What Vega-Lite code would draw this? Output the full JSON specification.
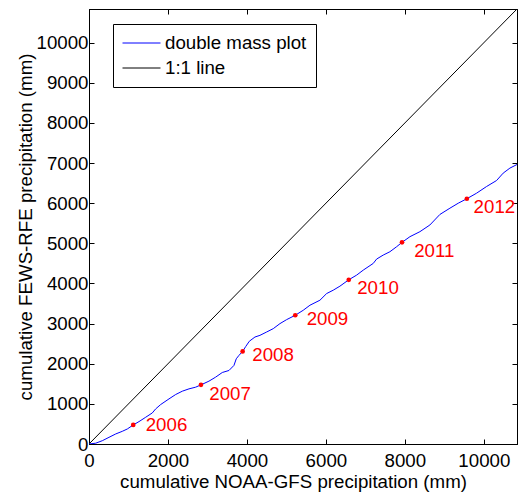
{
  "$schema": "https://vega.github.io/schema/vega-lite/v6.json",
  "width": 428,
  "height": 435,
  "autosize": {"type": "none"},
  "padding": {"left": 89, "top": 9, "right": 1, "bottom": 56},
  "config": {
    "font": "Liberation Sans",
    "view": {"stroke": "black", "strokeWidth": 1},
    "axis": {
      "domainColor": "black",
      "tickColor": "black",
      "labelColor": "black",
      "titleColor": "black",
      "labelFont": "Liberation Sans",
      "titleFont": "Liberation Sans",
      "labelFontSize": 18.7,
      "titleFontSize": 18.7,
      "titleFontWeight": "normal",
      "grid": false,
      "tickSize": -5,
      "labelPadding": 6,
      "labelFlush": false,
      "labelOverlap": false,
      "format": "d"
    },
    "legend": {
      "labelFont": "Liberation Sans",
      "labelFontSize": 18.7,
      "labelColor": "black"
    }
  },
  "datasets": {
    "lines": [
      {"x": 0, "y": 0, "series": "1:1 line"},
      {"x": 10840, "y": 10840, "series": "1:1 line"},
      {"x": 0, "y": 0, "series": "double mass plot"},
      {"x": 170, "y": 20, "series": "double mass plot"},
      {"x": 337, "y": 82, "series": "double mass plot"},
      {"x": 506, "y": 166, "series": "double mass plot"},
      {"x": 676, "y": 250, "series": "double mass plot"},
      {"x": 843, "y": 316, "series": "double mass plot"},
      {"x": 970, "y": 374, "series": "double mass plot"},
      {"x": 1120, "y": 475, "series": "double mass plot"},
      {"x": 1266, "y": 558, "series": "double mass plot"},
      {"x": 1435, "y": 666, "series": "double mass plot"},
      {"x": 1603, "y": 774, "series": "double mass plot"},
      {"x": 1688, "y": 874, "series": "double mass plot"},
      {"x": 1815, "y": 983, "series": "double mass plot"},
      {"x": 2026, "y": 1124, "series": "double mass plot"},
      {"x": 2195, "y": 1233, "series": "double mass plot"},
      {"x": 2363, "y": 1316, "series": "double mass plot"},
      {"x": 2532, "y": 1374, "series": "double mass plot"},
      {"x": 2701, "y": 1416, "series": "double mass plot"},
      {"x": 2836, "y": 1474, "series": "double mass plot"},
      {"x": 3038, "y": 1566, "series": "double mass plot"},
      {"x": 3207, "y": 1666, "series": "double mass plot"},
      {"x": 3376, "y": 1782, "series": "double mass plot"},
      {"x": 3545, "y": 1832, "series": "double mass plot"},
      {"x": 3671, "y": 1958, "series": "double mass plot"},
      {"x": 3730, "y": 2124, "series": "double mass plot"},
      {"x": 3798, "y": 2208, "series": "double mass plot"},
      {"x": 3891, "y": 2308, "series": "double mass plot"},
      {"x": 3970, "y": 2430, "series": "double mass plot"},
      {"x": 4060, "y": 2560, "series": "double mass plot"},
      {"x": 4203, "y": 2666, "series": "double mass plot"},
      {"x": 4330, "y": 2708, "series": "double mass plot"},
      {"x": 4499, "y": 2791, "series": "double mass plot"},
      {"x": 4667, "y": 2875, "series": "double mass plot"},
      {"x": 4836, "y": 3000, "series": "double mass plot"},
      {"x": 5005, "y": 3099, "series": "double mass plot"},
      {"x": 5224, "y": 3208, "series": "double mass plot"},
      {"x": 5426, "y": 3333, "series": "double mass plot"},
      {"x": 5596, "y": 3458, "series": "double mass plot"},
      {"x": 5849, "y": 3583, "series": "double mass plot"},
      {"x": 6018, "y": 3749, "series": "double mass plot"},
      {"x": 6186, "y": 3833, "series": "double mass plot"},
      {"x": 6355, "y": 3933, "series": "double mass plot"},
      {"x": 6579, "y": 4092, "series": "double mass plot"},
      {"x": 6778, "y": 4208, "series": "double mass plot"},
      {"x": 6946, "y": 4333, "series": "double mass plot"},
      {"x": 7199, "y": 4500, "series": "double mass plot"},
      {"x": 7284, "y": 4608, "series": "double mass plot"},
      {"x": 7452, "y": 4708, "series": "double mass plot"},
      {"x": 7621, "y": 4791, "series": "double mass plot"},
      {"x": 7791, "y": 4916, "series": "double mass plot"},
      {"x": 7928, "y": 5025, "series": "double mass plot"},
      {"x": 8128, "y": 5166, "series": "double mass plot"},
      {"x": 8381, "y": 5291, "series": "double mass plot"},
      {"x": 8634, "y": 5458, "series": "double mass plot"},
      {"x": 8887, "y": 5720, "series": "double mass plot"},
      {"x": 9141, "y": 5876, "series": "double mass plot"},
      {"x": 9351, "y": 6000, "series": "double mass plot"},
      {"x": 9570, "y": 6112, "series": "double mass plot"},
      {"x": 9816, "y": 6250, "series": "double mass plot"},
      {"x": 10069, "y": 6416, "series": "double mass plot"},
      {"x": 10323, "y": 6566, "series": "double mass plot"},
      {"x": 10490, "y": 6750, "series": "double mass plot"},
      {"x": 10660, "y": 6875, "series": "double mass plot"},
      {"x": 10840, "y": 6965, "series": "double mass plot"}
    ],
    "years": [
      {"x": 1120, "y": 475, "lx": 1436, "ly": 475, "year": "2006"},
      {"x": 2836, "y": 1474, "lx": 3046, "ly": 1250, "year": "2007"},
      {"x": 3891, "y": 2308, "lx": 4135, "ly": 2208, "year": "2008"},
      {"x": 5224, "y": 3208, "lx": 5512, "ly": 3125, "year": "2009"},
      {"x": 6579, "y": 4092, "lx": 6793, "ly": 3875, "year": "2010"},
      {"x": 7928, "y": 5025, "lx": 8237, "ly": 4815, "year": "2011"},
      {"x": 9570, "y": 6112, "lx": 9741, "ly": 5900, "year": "2012"}
    ]
  },
  "layer": [
    {
      "data": {"name": "lines"},
      "mark": {"type": "line", "strokeWidth": 1, "clip": true},
      "encoding": {
        "x": {
          "field": "x", "type": "quantitative",
          "scale": {"domain": [0, 10840], "nice": false},
          "axis": {"orient": "bottom", "values": [0, 2000, 4000, 6000, 8000, 10000], "title": "cumulative NOAA-GFS precipitation (mm)", "titleX": 204, "titlePadding": 3, "labelPadding": 12}
        },
        "y": {
          "field": "y", "type": "quantitative",
          "scale": {"domain": [0, 10840], "nice": false},
          "axis": {"orient": "left", "values": [0, 1000, 2000, 3000, 4000, 5000, 6000, 7000, 8000, 9000, 10000], "title": "cumulative FEWS-RFE precipitation (mm)", "titlePadding": 1}
        },
        "color": {
          "field": "series", "type": "nominal",
          "scale": {"domain": ["double mass plot", "1:1 line"], "range": ["#0000ff", "#000000"]},
          "legend": {
            "title": null,
            "orient": "none",
            "legendX": 24,
            "legendY": 15,
            "symbolType": "M-1,0H3",
            "symbolSize": 361,
            "symbolStrokeWidth": 1,
            "labelOffset": 23,
            "padding": 9,
            "rowPadding": 5,
            "strokeColor": "black",
            "fillColor": "white"
          }
        }
      }
    },
    {
      "data": {"name": "years"},
      "mark": {"type": "circle", "color": "#ff0000", "opacity": 1, "size": 22},
      "encoding": {
        "x": {"field": "x", "type": "quantitative", "axis": {"orient": "top", "values": [0, 2000, 4000, 6000, 8000, 10000], "labels": false, "title": null}},
        "y": {"field": "y", "type": "quantitative", "axis": {"orient": "right", "values": [0, 1000, 2000, 3000, 4000, 5000, 6000, 7000, 8000, 9000, 10000], "labels": false, "title": null}}
      }
    },
    {
      "data": {"name": "years"},
      "mark": {"type": "text", "color": "#ff0000", "align": "left", "baseline": "middle", "fontSize": 18.7, "font": "Liberation Sans"},
      "encoding": {
        "x": {"field": "lx", "type": "quantitative", "axis": null},
        "y": {"field": "ly", "type": "quantitative", "axis": null},
        "text": {"field": "year"}
      }
    }
  ]
}
